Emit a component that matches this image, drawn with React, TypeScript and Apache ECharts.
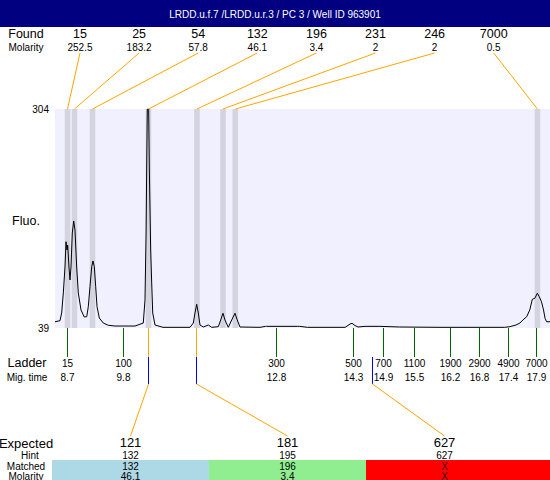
import React, { useEffect, useRef } from "react";
import * as echarts from "echarts";

// ---- Data ----
const traceTime = [
  8.451, 8.549, 8.582, 8.614, 8.647, 8.667, 8.686, 8.7, 8.725, 8.745, 8.765, 8.79, 8.818, 8.843,
  8.876, 8.908, 8.961, 9.025, 9.073, 9.104, 9.137, 9.171, 9.196, 9.222, 9.249, 9.275, 9.32,
  9.398, 9.496, 9.627, 10.02, 10.182, 10.216, 10.237, 10.249, 10.261, 10.288, 10.3, 10.327,
  10.347, 10.367, 10.412, 10.569, 11.098, 11.163, 11.196, 11.229, 11.261, 11.294, 11.359,
  11.457, 11.524, 11.653, 11.7, 11.745, 11.784, 11.849, 11.916, 11.98, 12.025, 12.078, 12.47,
  12.58, 12.6, 13.21, 13.25, 13.4, 14.14, 14.236, 14.275, 14.334, 14.392, 14.53, 14.82, 15.21,
  16.0, 17.27, 17.37, 17.49, 17.567, 17.626, 17.7, 17.76, 17.81, 17.86, 17.908, 17.947, 17.99,
  18.03, 18.06, 18.09, 18.157,
];
const traceFluo = [
  46.6, 47.8, 57.2, 81.4, 112.8, 143.4, 133.4, 139.4, 112.8, 97.1, 112.8, 154, 168.5, 157.6,
  112.8, 81.4, 60.8, 52.3, 52.7, 64.8, 89, 113.2, 120.1, 113.2, 89, 64.8, 51.1,
  45, 42.3, 41.4, 41.4, 45, 73, 154, 233.8, 304, 304, 233.8, 133.4,
  93.5, 57.2, 42.6, 39.8, 39.8, 45, 57.2, 67.7, 57.2, 42.6, 40.2,
  42.6, 39.8, 40.6, 48.7, 56.8, 48.7, 39.8, 48.7, 56.8, 48.7, 40.2, 39.8,
  41, 41, 41, 41, 39.8, 39.8, 43.8, 44.7, 42, 40.2, 41, 41, 40.2,
  39.8, 39.8, 40.6, 42.6, 45, 48.7, 52.7, 60.8, 73.7, 75, 81, 76.9, 70.8,
  60.8, 50.7, 46.6, 46.6,
];

const titleText = "LRDD.u.f.7 /LRDD.u.r.3 / PC 3 / Well ID 963901";
const yMin = 39;
const yMax = 304;

const foundSizes = ["15", "25", "54", "132", "196", "231", "246", "7000"];
const foundMolarity = ["252.5", "183.2", "57.8", "46.1", "3.4", "2", "2", "0.5"];
const foundTimes = [8.696, 8.833, 9.186, 10.284, 11.235, 11.745, 11.986, 17.91];

const ladderSizes = ["15", "100", "300", "500", "700", "1100", "1900", "2900", "4900", "7000"];
const ladderMigTimes = ["8.7", "9.8", "12.8", "14.3", "14.9", "15.5", "16.2", "16.8", "17.4", "17.9"];
const ladderTimes = [8.7, 9.8, 12.8, 14.3, 14.9, 15.5, 16.2, 16.78, 17.35, 17.9];

const expectedSizes = ["121", "181", "627"];
const hintSizes = ["132", "195", "627"];
const matchedSizes = ["132", "196", "X"];
const matchedMolarity = ["46.1", "3.4", "X"];
const expectedTimes = [10.284, 11.225, 14.673];
const expectedHasFound = [true, true, false];
const matchColors = ["#ADD8E6", "#90EE90", "#FF0000"];

const FONT = "Liberation Sans, Arial, sans-serif";
const ORANGE = "#FFA500";

export default function App() {
  const ref = useRef<HTMLDivElement>(null);

  useEffect(() => {
    document.body.style.margin = "0";
    const el = ref.current;
    if (!el) return;
    const chart = echarts.init(el, null, { renderer: "svg" });
    const bandHalf = 0.055;
    chart.setOption({
      animation: false,
      backgroundColor: "#FFFFFF",
      grid: {
        left: 55,
        top: 109,
        width: 495,
        height: 219,
        show: true,
        backgroundColor: "#F0F0FF",
        borderWidth: 0,
      },
      xAxis: { type: "value", min: 8.451, max: 18.157, show: false },
      yAxis: { type: "value", min: yMin, max: yMax, show: false },
      series: [
        {
          type: "line",
          data: traceTime.map((t, i) => [t, traceFluo[i]]),
          showSymbol: false,
          lineStyle: { color: "#000000", width: 1 },
          z: 3,
          markArea: {
            silent: true,
            itemStyle: { color: "#D4D4E1" },
            data: foundTimes.map((t) => [{ xAxis: t - bandHalf }, { xAxis: t + bandHalf }]),
          },
        },
      ],
    });

    const px = (t: number, v: number) =>
      chart.convertToPixel({ gridIndex: 0 }, [t, v]) as number[];
    const bottomY = Math.round(px(8.7, yMin)[1]);
    const topY = px(8.7, yMax)[1];

    const g: any[] = [];
    const text = (x: number, y: number, s: string, size: number, align = "center", fill = "#000") =>
      g.push({
        type: "text",
        x,
        y,
        style: { text: s, fontSize: size, fontFamily: FONT, fill, align, verticalAlign: "middle" },
        z: 10,
      });
    const line = (x1: number, y1: number, x2: number, y2: number, stroke: string) =>
      g.push({ type: "line", shape: { x1, y1, x2, y2 }, style: { stroke, lineWidth: 1 }, z: 9 });
    const vline = (x: number, y1: number, y2: number, fill: string) =>
      g.push({
        type: "rect",
        shape: { x: Math.floor(x), y: y1, width: 1, height: y2 - y1 },
        style: { fill },
        z: 9,
      });

    // title
    g.push({ type: "rect", shape: { x: 0, y: 0, width: 550, height: 27 }, style: { fill: "#000080" }, z: 8 });
    text(275, 14, titleText, 10, "center", "#FFFFFF");

    // found
    text(26, 34, "Found", 12.5);
    text(26, 47, "Molarity", 10);
    foundSizes.forEach((s, i) => {
      const lx = 80 + i * 59.1;
      text(lx, 34, s, 12.5);
      text(lx, 47, foundMolarity[i], 10);
      const bx = px(foundTimes[i], yMax)[0];
      line(lx, 53, bx, topY, ORANGE);
    });

    // y labels
    text(49, topY, String(yMax), 10, "right");
    text(49, bottomY, String(yMin), 10, "right");
    text(26, 221, "Fluo.", 12.5);

    // ladder
    text(27, 363, "Ladder", 12.5);
    text(27, 377, "Mig. time", 10);
    ladderSizes.forEach((s, i) => {
      const x = px(ladderTimes[i], yMin)[0];
      vline(x, bottomY, 357, "#006400");
      text(Math.floor(x) + 0.5, 363, s, 10);
      text(Math.floor(x) + 0.5, 377, ladderMigTimes[i], 10);
    });

    // expected
    const colX = 52;
    const colW = 157;
    text(26, 443, "Expected", 13);
    text(30, 455, "Hint", 10);
    text(26, 466, "Matched", 10);
    text(26, 476, "Molarity", 10);
    expectedSizes.forEach((s, i) => {
      const x0 = colX + i * colW;
      const w = i === expectedSizes.length - 1 ? 550 - x0 : colW;
      g.push({ type: "rect", shape: { x: x0, y: 460, width: w, height: 20 }, style: { fill: matchColors[i] }, z: 7 });
      const cx = x0 + colW / 2;
      text(cx, 442, s, 13);
      text(cx, 455, hintSizes[i], 10);
      text(cx, 466, matchedSizes[i], 10, "center", i === 2 ? "#400000" : "#000");
      text(cx, 476, matchedMolarity[i], 10, "center", i === 2 ? "#400000" : "#000");
      const mx = px(expectedTimes[i], yMin)[0];
      if (expectedHasFound[i]) vline(mx, bottomY, 357, ORANGE);
      vline(mx, 357, 384, "#0000FF");
      line(Math.floor(mx) + 0.5, 384, cx, 436, ORANGE);
    });

    chart.setOption({ graphic: { elements: g } });
    return () => chart.dispose();
  }, []);

  return <div ref={ref} style={{ width: 550, height: 480 }} />;
}
